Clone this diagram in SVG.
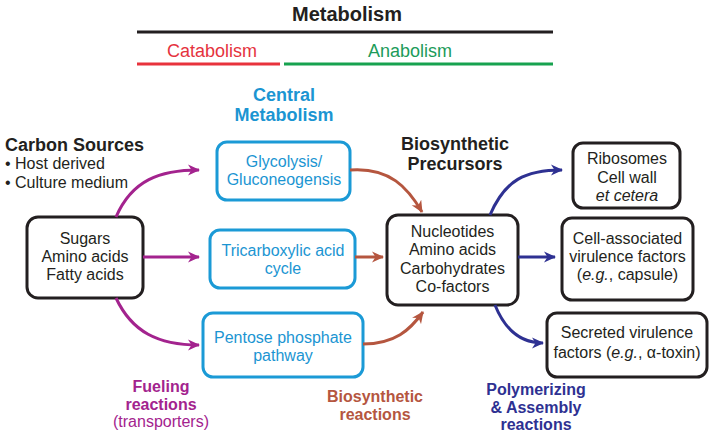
<svg xmlns="http://www.w3.org/2000/svg" width="714" height="438" viewBox="0 0 714 438">
<style>
text{font-family:"Liberation Sans",Arial,sans-serif;font-size:16px;fill:#231f20;text-anchor:middle}
.b{font-weight:bold}
.bk{fill:#fff;stroke:#231f20;stroke-width:3}
.bl{fill:#fff;stroke:#1b9ad6;stroke-width:3}
.blt{fill:#1b95d2}
.pu{stroke:#a3238e}
.br{stroke:#b5563f}
.nv{stroke:#2e3192}
.arr path{fill:none;stroke-width:3}
i{font-style:italic}
</style>
<defs>
<marker id="mp" viewBox="0 0 12 12" refX="11" refY="6" markerWidth="12" markerHeight="12" markerUnits="userSpaceOnUse" orient="auto"><path d="M0,0.5 L12,6 L0,11.5 L3.5,6 z" fill="#a3238e"/></marker>
<marker id="mb" viewBox="0 0 12 12" refX="11" refY="6" markerWidth="12" markerHeight="12" markerUnits="userSpaceOnUse" orient="auto"><path d="M0,0.5 L12,6 L0,11.5 L3.5,6 z" fill="#b5563f"/></marker>
<marker id="mn" viewBox="0 0 12 12" refX="11" refY="6" markerWidth="12" markerHeight="12" markerUnits="userSpaceOnUse" orient="auto"><path d="M0,0.5 L12,6 L0,11.5 L3.5,6 z" fill="#2e3192"/></marker>
</defs>

<g id="header">
<text x="347" y="21" class="b" style="font-size:20px">Metabolism</text>
<line x1="137" y1="32" x2="553" y2="32" stroke="#231f20" stroke-width="3"/>
<text x="212" y="57" style="font-size:18px;fill:#e5333e">Catabolism</text>
<line x1="137" y1="64" x2="280" y2="64" stroke="#e8323c" stroke-width="3"/>
<text x="410" y="57" style="font-size:18px;fill:#1c9b5a">Anabolism</text>
<line x1="284" y1="64" x2="553" y2="64" stroke="#17a24f" stroke-width="3"/>
</g>

<g id="central-label">
<text x="284" y="101" class="b blt" style="font-size:18px">Central</text>
<text x="284" y="121" class="b blt" style="font-size:18px">Metabolism</text>
</g>

<g id="carbon-sources">
<text x="5" y="151" class="b" style="font-size:18px;text-anchor:start">Carbon Sources</text>
<text x="5" y="169" style="text-anchor:start">• Host derived</text>
<text x="5" y="188" style="text-anchor:start">• Culture medium</text>
</g>

<g id="sources">
<rect x="27" y="217" width="116" height="81" rx="11" class="bk"/>
<text x="85" y="244">Sugars</text>
<text x="85" y="262">Amino acids</text>
<text x="85" y="280">Fatty acids</text>
</g>

<g id="glycolysis">
<rect x="217" y="142" width="133" height="58" rx="10" class="bl"/>
<text x="284" y="167" class="blt">Glycolysis/</text>
<text x="284" y="185" class="blt">Gluconeogensis</text>
</g>

<g id="tca">
<rect x="210" y="230" width="145" height="58" rx="10" class="bl"/>
<text x="283" y="256" class="blt">Tricarboxylic acid</text>
<text x="283" y="274" class="blt">cycle</text>
</g>

<g id="pentose">
<rect x="203" y="313" width="160" height="64" rx="10" class="bl"/>
<text x="283" y="343" class="blt">Pentose phosphate</text>
<text x="283" y="361" class="blt">pathway</text>
</g>

<g id="precursors-label">
<text x="455" y="150" class="b" style="font-size:18px">Biosynthetic</text>
<text x="455" y="170" class="b" style="font-size:18px">Precursors</text>
</g>

<g id="precursors">
<rect x="387" y="215" width="131" height="90" rx="11" class="bk"/>
<text x="452.5" y="237">Nucleotides</text>
<text x="452.5" y="255">Amino acids</text>
<text x="452.5" y="274">Carbohydrates</text>
<text x="452.5" y="292">Co-factors</text>
</g>

<g id="ribosomes">
<rect x="573" y="143" width="107" height="65" rx="10" class="bk"/>
<text x="627" y="164">Ribosomes</text>
<text x="627" y="183">Cell wall</text>
<text x="627" y="201" style="font-style:italic">et cetera</text>
</g>

<g id="cell-associated">
<rect x="562" y="218" width="131" height="82" rx="10" class="bk"/>
<text x="627.5" y="244">Cell-associated</text>
<text x="627.5" y="262">virulence factors</text>
<text x="627.5" y="280">(<tspan style="font-style:italic">e.g.</tspan>, capsule)</text>
</g>

<g id="secreted">
<rect x="547" y="313" width="160" height="64" rx="10" class="bk"/>
<text x="627" y="338">Secreted virulence</text>
<text x="627" y="358">factors (<tspan style="font-style:italic">e.g.</tspan>, α-toxin)</text>
</g>

<g id="connectors" class="arr">
<path class="pu" d="M116,217 C132,180 160,170 199,170" marker-end="url(#mp)"/>
<path class="pu" d="M143,257 L199,257" marker-end="url(#mp)"/>
<path class="pu" d="M116,298 C132,332 158,345 199,345" marker-end="url(#mp)"/>
<path class="br" d="M350,170 C390,167 408,188 422,212" marker-end="url(#mb)"/>
<path class="br" d="M355,257 L383,257" marker-end="url(#mb)"/>
<path class="br" d="M363,344 C395,344 410,330 423,312" marker-end="url(#mb)"/>
<path class="nv" d="M490,215 C505,180 525,170 562,170" marker-end="url(#mn)"/>
<path class="nv" d="M518,257 L555,257" marker-end="url(#mn)"/>
<path class="nv" d="M495,305 C505,330 520,343 543,343" marker-end="url(#mn)"/>
</g>

<g id="reaction-labels">
<text x="161" y="392" class="b" style="fill:#a3238e">Fueling</text>
<text x="161" y="410" class="b" style="fill:#a3238e">reactions</text>
<text x="161" y="427" style="fill:#a3238e">(transporters)</text>
<text x="375" y="402" class="b" style="fill:#b5563f">Biosynthetic</text>
<text x="375" y="420" class="b" style="fill:#b5563f">reactions</text>
<text x="536" y="395" class="b" style="fill:#2e3192">Polymerizing</text>
<text x="536" y="413" class="b" style="fill:#2e3192">&amp; Assembly</text>
<text x="536" y="430" class="b" style="fill:#2e3192">reactions</text>
</g>
</svg>
